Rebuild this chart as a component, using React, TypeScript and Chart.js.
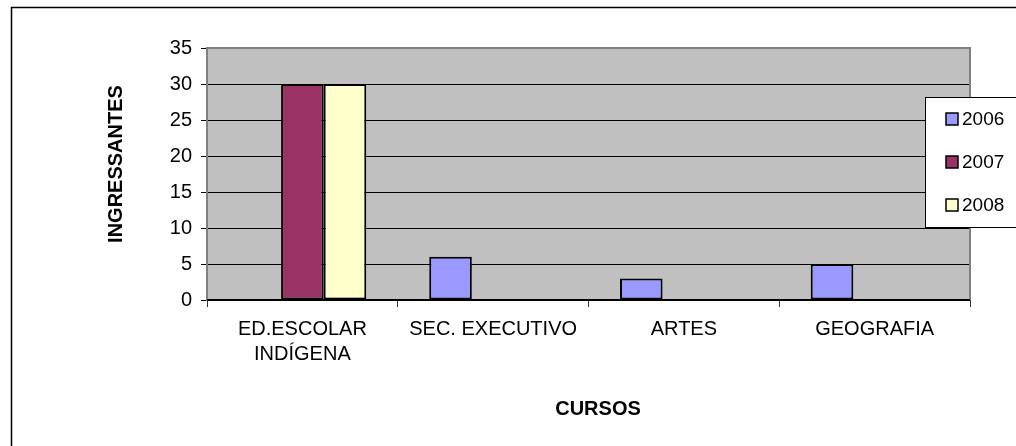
import React, { useEffect, useRef } from "react";
import { Chart, registerables } from "chart.js";
Chart.register(...registerables);

const categories: (string | string[])[] = [["ED.ESCOLAR", "INDÍGENA"], "SEC. EXECUTIVO", "ARTES", "GEOGRAFIA"];
const seriesLabels = ["2006", "2007", "2008"];
const values2006 = [null, 6, 3, 5];
const values2007 = [30, null, null, null];
const values2008 = [30, null, null, null];
const seriesColors = ["#9999FF", "#993366", "#FFFFCC"];
const yMin = 0;
const yMax = 35;
const yStep = 5;
const yTitle = "INGRESSANTES";
const xTitle = "CURSOS";

const FONT = "'Liberation Sans', Arial, sans-serif";
const FS = 20;
const LEG_FS = 19;

const decor = {
  id: "decor",
  beforeDraw(chart: any) {
    const { ctx, chartArea: a } = chart;
    ctx.save();
    ctx.fillStyle = "#ffffff";
    ctx.fillRect(0, 0, chart.width, chart.height);
    ctx.strokeStyle = "#000000";
    ctx.lineWidth = 1.5;
    ctx.strokeRect(11.5, 7.5, 1200, 800);
    ctx.fillStyle = "#C0C0C0";
    ctx.fillRect(a.left, a.top, a.right - a.left, a.bottom - a.top);
    ctx.restore();
  },
  afterDraw(chart: any) {
    const { ctx, chartArea: a } = chart;
    ctx.save();
    // plot border
    ctx.strokeStyle = "#808080";
    ctx.lineWidth = 2;
    ctx.beginPath();
    ctx.moveTo(a.left, a.bottom);
    ctx.lineTo(a.left, a.top);
    ctx.lineTo(a.right, a.top);
    ctx.lineTo(a.right, a.bottom);
    ctx.stroke();
    ctx.strokeStyle = "#000000";
    ctx.lineWidth = 1.5;
    ctx.beginPath();
    ctx.moveTo(a.left, a.bottom);
    ctx.lineTo(a.right, a.bottom);
    ctx.stroke();

    // axis titles
    ctx.fillStyle = "#000000";
    ctx.font = `bold ${FS}px ${FONT}`;
    ctx.textAlign = "center";
    ctx.textBaseline = "middle";
    ctx.save();
    ctx.translate(116, 164);
    ctx.rotate(-Math.PI / 2);
    ctx.fillText(yTitle, 0, 0);
    ctx.restore();
    ctx.fillText(xTitle, 598, 409);

    // legend
    const lx = 925, ly = 97, lw = 110, lh = 130;
    ctx.fillStyle = "#ffffff";
    ctx.fillRect(lx, ly, lw, lh);
    ctx.strokeStyle = "#000000";
    ctx.lineWidth = 1;
    ctx.strokeRect(lx + 0.5, ly + 0.5, lw, lh);
    ctx.font = `${LEG_FS}px ${FONT}`;
    ctx.textAlign = "left";
    ctx.textBaseline = "middle";
    chart.data.datasets.forEach((ds: any, i: number) => {
      const y = 119 + 43 * i;
      ctx.fillStyle = ds.backgroundColor;
      ctx.fillRect(946, y - 6, 12, 12);
      ctx.strokeStyle = "#000000";
      ctx.lineWidth = 1.5;
      ctx.strokeRect(946, y - 6, 12, 12);
      ctx.fillStyle = "#000000";
      ctx.fillText(ds.label, 962, y + 1);
    });
    ctx.restore();
  },
};

export default function App() {
  const ref = useRef<HTMLCanvasElement>(null);
  useEffect(() => {
    if (!ref.current) return;
    const datasets = [values2006, values2007, values2008].map((v, i) => ({
      label: seriesLabels[i],
      data: v,
      backgroundColor: seriesColors[i],
      borderColor: "#000000",
      borderWidth: 2,
      borderSkipped: false as any,
      categoryPercentage: 0.67,
      barPercentage: 1,
    }));
    const chart = new Chart(ref.current, {
      type: "bar",
      data: { labels: categories as any, datasets: datasets as any },
      options: {
        animation: false,
        responsive: false,
        devicePixelRatio: 1,
        layout: { padding: { left: 0, top: 48, right: 46, bottom: 0 } },
        plugins: { legend: { display: false }, tooltip: { enabled: false } },
        scales: {
          x: {
            afterFit: (s: any) => { s.height = 146; },
            grid: { drawOnChartArea: false, drawTicks: true, tickLength: 7, color: "#333333", offset: true },
            border: { display: true, color: "#000000", width: 1.5 },
            ticks: { color: "#000000", padding: 10, font: { family: FONT, size: FS, lineHeight: 1.25 }, maxRotation: 0, autoSkip: false },
          },
          y: {
            min: yMin,
            max: yMax,
            afterFit: (s: any) => { s.width = 207; },
            grid: { color: "#000000", lineWidth: 1, tickLength: 6 },
            border: { display: true, color: "#808080", width: 2 },
            ticks: { stepSize: yStep, color: "#000000", padding: 9, font: { family: FONT, size: FS } },
          },
        },
      },
      plugins: [decor],
    });
    return () => chart.destroy();
  }, []);
  return (
    <div style={{ position: "fixed", left: 0, top: 0, width: 1016, height: 446, background: "#fff" }}>
      <canvas ref={ref} width={1016} height={446} style={{ width: 1016, height: 446, display: "block" }} />
    </div>
  );
}
